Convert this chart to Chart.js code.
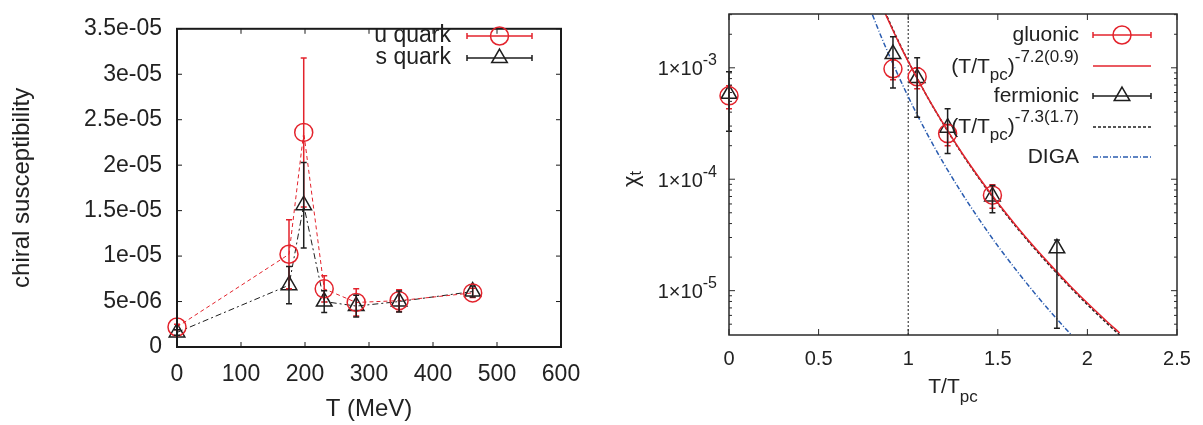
<!DOCTYPE html>
<html>
<head>
<meta charset="utf-8">
<script src="https://cdn.jsdelivr.net/npm/chart.js@4.4.1/dist/chart.umd.min.js"></script>
<style>
  html, body { margin: 0; padding: 0; background: #fff; }
  #wrap { position: relative; width: 1203px; height: 425px; }
  #quark-chart { position: absolute; left: 0; top: 0; }
  #topo-chart { position: absolute; left: 600px; top: 0; }
</style>
</head>
<body>
<div id="wrap">
  <canvas id="quark-chart" width="600" height="425"></canvas>
  <canvas id="topo-chart" width="603" height="425"></canvas>
</div>
<script>
// ---- left panel: chiral susceptibility ----
var quarkTemps = [0, 175, 198, 230, 280, 347, 462];
var uQuark    = [2.2e-6, 1.02e-5, 2.36e-5, 6.4e-6, 4.9e-6, 5.1e-6, 5.95e-6];
var uQuarkErr = [0.3e-6, 3.8e-6, 8.2e-6, 1.45e-6, 1.5e-6, 1.2e-6, 0.5e-6];
var sQuark    = [1.6e-6, 6.8e-6, 1.56e-5, 5.0e-6, 4.5e-6, 5.0e-6, 6.1e-6];
var sQuarkErr = [0.3e-6, 2.05e-6, 4.7e-6, 1.2e-6, 1.2e-6, 1.15e-6, 0.6e-6];

var quarkXTicks  = [0, 100, 200, 300, 400, 500, 600];
var quarkYTicks  = [0, 5e-6, 1e-5, 1.5e-5, 2e-5, 2.5e-5, 3e-5, 3.5e-5];
var quarkYLabels = ["0", "5e-06", "1e-05", "1.5e-05", "2e-05", "2.5e-05", "3e-05", "3.5e-05"];

// ---- right panel: topological susceptibility ----
var gluonicX  = [0, 0.915, 1.05, 1.22, 1.47];
var gluonic   = [5.6e-4, 9.8e-4, 8.3e-4, 2.57e-4, 7.2e-5];
var gluonicLo = [4.3e-4, 7.8e-4, 6.5e-4, 2.0e-4, 5.5e-5];
var gluonicHi = [6.9e-4, 1.18e-3, 1.0e-3, 3.1e-4, 8.9e-5];

var fermionicX  = [0, 0.915, 1.05, 1.22, 1.47, 1.83];
var fermionic   = [5.85e-4, 1.33e-3, 8.1e-4, 2.9e-4, 7.0e-5, 2.4e-5];
var fermionicLo = [2.7e-4, 6.6e-4, 3.6e-4, 1.7e-4, 5.0e-5, 4.6e-6];
var fermionicHi = [9.2e-4, 1.9e-3, 1.23e-3, 4.3e-4, 8.8e-5, 2.85e-5];

var fitGluX = [0.87, 0.95, 1.0, 1.1, 1.2, 1.3, 1.4, 1.5, 1.6, 1.7, 1.8, 1.9, 2.0, 2.1, 2.18];
var fitGlu  = [3.11e-3, 1.65e-3, 1.14e-3, 5.74e-4, 3.07e-4, 1.72e-4, 1.01e-4, 6.15e-5, 3.87e-5, 2.50e-5, 1.66e-5, 1.12e-5, 7.75e-6, 5.46e-6, 4.17e-6];
var fitFerX = [0.87, 0.95, 1.0, 1.1, 1.2, 1.3, 1.4, 1.5, 1.6, 1.7, 1.8, 1.9, 2.0, 2.1, 2.18];
var fitFer  = [3.18e-3, 1.67e-3, 1.15e-3, 5.73e-4, 3.05e-4, 1.70e-4, 9.92e-5, 6.02e-5, 3.78e-5, 2.44e-5, 1.61e-5, 1.09e-5, 7.5e-6, 5.25e-6, 4.0e-6];
var digaX = [0.78, 0.85, 0.9, 1.0, 1.1, 1.2, 1.3, 1.4, 1.5, 1.6, 1.7, 1.8, 1.9, 2.0];
var diga  = [3.63e-3, 1.89e-3, 1.23e-3, 5.5e-4, 2.66e-4, 1.37e-4, 7.48e-5, 4.27e-5, 2.52e-5, 1.55e-5, 9.75e-6, 6.31e-6, 4.18e-6, 2.83e-6];
var tpcLineX = [1, 1];
var tpcLineY = [4e-6, 3.04e-3];

var topoXTicks  = [0, 0.5, 1, 1.5, 2, 2.5];
var topoXLabels = ["0", "0.5", "1", "1.5", "2", "2.5"];
var topoYTicks  = [1e-5, 1e-4, 1e-3];
var topoYExp    = ["-5", "-4", "-3"];
var topoYMinor  = [5e-6, 6e-6, 7e-6, 8e-6, 9e-6, 2e-5, 3e-5, 4e-5, 5e-5, 6e-5, 7e-5, 8e-5, 9e-5,
                   2e-4, 3e-4, 4e-4, 5e-4, 6e-4, 7e-4, 8e-4, 9e-4, 2e-3, 3e-3];

var RED = "#e3232c", BLACK = "#1e1e1e", BLUE = "#2a5cb0", TEXT = "#222";
var FONT = "'Liberation Sans', Arial, Helvetica, sans-serif";
Chart.defaults.font.family = FONT;
Chart.defaults.color = TEXT;

function pairs(xs, ys) {
  return xs.map(function (x, i) { return { x: x, y: ys[i] }; });
}

// text made of pieces with different sizes / offsets (sub- and superscripts)
function richText(ctx, parts, x, y, align) {
  var total = 0;
  parts.forEach(function (p) {
    ctx.font = p.size + "px " + FONT;
    p.w = ctx.measureText(p.t).width;
    total += p.w;
  });
  var cx = align === "right" ? x - total : (align === "center" ? x - total / 2 : x);
  ctx.textAlign = "left";
  ctx.textBaseline = "middle";
  parts.forEach(function (p) {
    ctx.font = p.size + "px " + FONT;
    ctx.fillText(p.t, cx, y + (p.dy || 0));
    cx += p.w;
  });
}

function drawMarker(ctx, style, x, y, r) {
  ctx.beginPath();
  if (style === "circle") {
    ctx.arc(x, y, r, 0, Math.PI * 2);
  } else {
    var a = 0;
    ctx.moveTo(x + Math.sin(a) * r, y - Math.cos(a) * r);
    a += Math.PI * 2 / 3;
    ctx.lineTo(x + Math.sin(a) * r, y - Math.cos(a) * r);
    a += Math.PI * 2 / 3;
    ctx.lineTo(x + Math.sin(a) * r, y - Math.cos(a) * r);
    ctx.closePath();
  }
  ctx.stroke();
}

var errorBars = {
  id: "errorBars",
  afterDatasetsDraw: function (chart) {
    var ctx = chart.ctx, ys = chart.scales.y;
    chart.data.datasets.forEach(function (ds, i) {
      if (!ds.errLo) return;
      var meta = chart.getDatasetMeta(i);
      ctx.save();
      ctx.strokeStyle = ds.borderColor;
      ctx.lineWidth = 1.5;
      ctx.setLineDash([]);
      ctx.beginPath();
      meta.data.forEach(function (pt, j) {
        var y0 = ys.getPixelForValue(ds.errLo[j]);
        var y1 = ys.getPixelForValue(ds.errHi[j]);
        ctx.moveTo(pt.x, y0); ctx.lineTo(pt.x, y1);
        ctx.moveTo(pt.x - 3, y0); ctx.lineTo(pt.x + 3, y0);
        ctx.moveTo(pt.x - 3, y1); ctx.lineTo(pt.x + 3, y1);
      });
      ctx.stroke();
      ctx.restore();
    });
  }
};

// gnuplot style border with inward ticks on all four sides
function makeFrame(cfg) {
  return {
    id: "frame",
    afterDraw: function (chart) {
      var a = chart.chartArea, ctx = chart.ctx;
      var xs = chart.scales.x, ys = chart.scales.y;
      ctx.save();
      ctx.strokeStyle = cfg.color;
      ctx.lineWidth = cfg.width;
      ctx.strokeRect(a.left, a.top, a.right - a.left, a.bottom - a.top);
      ctx.lineWidth = 1;
      ctx.beginPath();
      cfg.xTicks.forEach(function (v) {
        var p = xs.getPixelForValue(v);
        ctx.moveTo(p, a.bottom); ctx.lineTo(p, a.bottom - cfg.len);
        ctx.moveTo(p, a.top); ctx.lineTo(p, a.top + cfg.len);
      });
      cfg.yTicks.forEach(function (v) {
        var p = ys.getPixelForValue(v);
        ctx.moveTo(a.left, p); ctx.lineTo(a.left + cfg.len, p);
        ctx.moveTo(a.right, p); ctx.lineTo(a.right - cfg.len, p);
      });
      (cfg.yMinor || []).forEach(function (v) {
        var p = ys.getPixelForValue(v);
        ctx.moveTo(a.left, p); ctx.lineTo(a.left + cfg.len / 2, p);
        ctx.moveTo(a.right, p); ctx.lineTo(a.right - cfg.len / 2, p);
      });
      ctx.stroke();
      ctx.restore();
    }
  };
}

function makeLegend(cfg) {
  return {
    id: "gnuLegend",
    afterDraw: function (chart) {
      var ctx = chart.ctx;
      ctx.save();
      cfg.items.forEach(function (it) {
        ctx.fillStyle = TEXT;
        richText(ctx, it.parts, cfg.textRight, it.y + (it.textDy || 0), "right");
        ctx.strokeStyle = it.color;
        ctx.lineWidth = it.lineWidth || 1.5;
        ctx.setLineDash(it.dash || []);
        ctx.beginPath();
        ctx.moveTo(cfg.x0, it.y); ctx.lineTo(cfg.x1, it.y);
        ctx.stroke();
        ctx.setLineDash([]);
        if (it.marker) {
          ctx.beginPath();
          ctx.moveTo(cfg.x0, it.y - 3); ctx.lineTo(cfg.x0, it.y + 3);
          ctx.moveTo(cfg.x1, it.y - 3); ctx.lineTo(cfg.x1, it.y + 3);
          ctx.stroke();
          drawMarker(ctx, it.marker, (cfg.x0 + cfg.x1) / 2, it.y, 9);
        }
      });
      ctx.restore();
    }
  };
}

// ---------------- left chart ----------------
var quarkCtx = document.getElementById("quark-chart").getContext("2d");
new Chart(quarkCtx, {
  type: "line",
  data: {
    datasets: [
      {
        label: "u quark",
        data: pairs(quarkTemps, uQuark),
        errLo: uQuark.map(function (v, i) { return v - uQuarkErr[i]; }),
        errHi: uQuark.map(function (v, i) { return v + uQuarkErr[i]; }),
        borderColor: RED,
        borderWidth: 1,
        borderDash: [4, 3],
        pointStyle: "circle",
        pointRadius: 9,
        pointBorderWidth: 1.5,
        pointBorderColor: RED,
        pointBackgroundColor: "rgba(0,0,0,0)",
        tension: 0,
        clip: false,
      },
      {
        label: "s quark",
        data: pairs(quarkTemps, sQuark),
        errLo: sQuark.map(function (v, i) { return v - sQuarkErr[i]; }),
        errHi: sQuark.map(function (v, i) { return v + sQuarkErr[i]; }),
        borderColor: BLACK,
        borderWidth: 1,
        borderDash: [6, 3, 2, 3],
        pointStyle: "triangle",
        pointRadius: 9,
        pointBorderWidth: 1.5,
        pointBorderColor: BLACK,
        pointBackgroundColor: "rgba(0,0,0,0)",
        tension: 0,
        clip: false,
      },
    ],
  },
  options: {
    responsive: false,
    animation: false,
    layout: { padding: { top: 17, right: 39, left: 0, bottom: 0 } },
    plugins: { legend: { display: false }, tooltip: { enabled: false } },
    scales: {
      x: {
        type: "linear",
        min: 0,
        max: 600,
        afterBuildTicks: function (s) { s.ticks = quarkXTicks.map(function (v) { return { value: v }; }); },
        afterFit: function (s) { s.height = 78; },
        grid: { display: false, drawTicks: false },
        border: { display: false },
        ticks: { padding: 14, autoSkip: false, maxRotation: 0, color: TEXT, font: { size: 23 } },
        title: { display: true, text: "T (MeV)", color: TEXT, font: { size: 24 }, padding: { top: 0, bottom: 1 } },
      },
      y: {
        type: "linear",
        min: 0,
        max: 3.5e-5,
        afterBuildTicks: function (s) { s.ticks = quarkYTicks.map(function (v) { return { value: v }; }); },
        afterFit: function (s) { s.width = 177; },
        grid: { display: false, drawTicks: false },
        border: { display: false },
        ticks: {
          padding: 15,
          color: TEXT,
          font: { size: 23 },
          callback: function (v, i) { return quarkYLabels[i]; },
        },
        title: { display: true, text: "chiral susceptibility", color: TEXT, font: { size: 24 }, padding: { top: 8, bottom: 0 } },
      },
    },
  },
  plugins: [
    errorBars,
    makeFrame({ color: "#1a1a1a", width: 2, len: 5, xTicks: quarkXTicks, yTicks: quarkYTicks }),
    makeLegend({
      textRight: 451, x0: 467, x1: 532,
      items: [
        { parts: [{ t: "u quark", size: 23 }], y: 36, color: RED, marker: "circle" },
        { parts: [{ t: "s quark", size: 23 }], y: 58, color: BLACK, marker: "triangle" },
      ],
    }),
  ],
});

// ---------------- right chart ----------------
var topoLabels = {
  id: "topoLabels",
  afterDraw: function (chart) {
    var ctx = chart.ctx, ys = chart.scales.y;
    ctx.save();
    ctx.fillStyle = TEXT;
    topoYTicks.forEach(function (v, i) {
      var p = ys.getPixelForValue(v);
      richText(ctx, [{ t: "1\u00d710", size: 20 }, { t: topoYExp[i], size: 16, dy: -9 }], 117, p + 2, "right");
    });
    richText(ctx, [{ t: "T/T", size: 21 }, { t: "pc", size: 17, dy: 10 }], 353, 387, "center");
    ctx.translate(32, 179);
    ctx.rotate(-Math.PI / 2);
    richText(ctx, [{ t: "\u03c7", size: 22 }, { t: "t", size: 16, dy: 5 }], 0, 0, "center");
    ctx.restore();
  }
};

var topoCtx = document.getElementById("topo-chart").getContext("2d");
new Chart(topoCtx, {
  type: "line",
  data: {
    datasets: [
      {
        label: "gluonic",
        data: pairs(gluonicX, gluonic),
        errLo: gluonicLo,
        errHi: gluonicHi,
        showLine: false,
        borderColor: RED,
        pointStyle: "circle",
        pointRadius: 9,
        pointBorderWidth: 1.5,
        pointBorderColor: RED,
        pointBackgroundColor: "rgba(0,0,0,0)",
        clip: false,
      },
      {
        label: "fit gluonic",
        data: pairs(fitGluX, fitGlu),
        borderColor: RED,
        borderWidth: 1.5,
        pointRadius: 0,
        cubicInterpolationMode: "monotone",
      },
      {
        label: "fermionic",
        data: pairs(fermionicX, fermionic),
        errLo: fermionicLo,
        errHi: fermionicHi,
        showLine: false,
        borderColor: BLACK,
        pointStyle: "triangle",
        pointRadius: 9,
        pointBorderWidth: 1.5,
        pointBorderColor: BLACK,
        pointBackgroundColor: "rgba(0,0,0,0)",
        clip: false,
      },
      {
        label: "fit fermionic",
        data: pairs(fitFerX, fitFer),
        borderColor: BLACK,
        borderWidth: 1.5,
        borderDash: [3, 2],
        pointRadius: 0,
        cubicInterpolationMode: "monotone",
      },
      {
        label: "DIGA",
        data: pairs(digaX, diga),
        borderColor: BLUE,
        borderWidth: 1.5,
        borderDash: [5, 2, 1, 2],
        pointRadius: 0,
        cubicInterpolationMode: "monotone",
      },
      {
        label: "Tpc",
        data: pairs(tpcLineX, tpcLineY),
        borderColor: BLACK,
        borderWidth: 1,
        borderDash: [2, 2],
        pointRadius: 0,
      },
    ],
  },
  options: {
    responsive: false,
    animation: false,
    layout: { padding: { top: 14, right: 26, left: 0, bottom: 0 } },
    plugins: { legend: { display: false }, tooltip: { enabled: false } },
    scales: {
      x: {
        type: "linear",
        min: 0,
        max: 2.5,
        afterBuildTicks: function (s) { s.ticks = topoXTicks.map(function (v) { return { value: v }; }); },
        afterFit: function (s) { s.height = 90; },
        grid: { display: false, drawTicks: false },
        border: { display: false },
        ticks: {
          padding: 12,
          autoSkip: false,
          maxRotation: 0,
          color: TEXT,
          font: { size: 20 },
          callback: function (v, i) { return topoXLabels[i]; },
        },
      },
      y: {
        type: "logarithmic",
        min: 4e-6,
        max: 3.04e-3,
        afterFit: function (s) { s.width = 129; },
        grid: { display: false, drawTicks: false },
        border: { display: false },
        ticks: { display: false },
      },
    },
  },
  plugins: [
    errorBars,
    makeFrame({ color: "#2a2a2a", width: 1.5, len: 6, xTicks: topoXTicks, yTicks: topoYTicks, yMinor: topoYMinor }),
    topoLabels,
    makeLegend({
      textRight: 479, x0: 493, x1: 551,
      items: [
        { parts: [{ t: "gluonic", size: 21 }], y: 35, color: RED, marker: "circle" },
        { parts: [{ t: "(T/T", size: 21 }, { t: "pc", size: 17, dy: 8 }, { t: ")", size: 21 }, { t: "-7.2(0.9)", size: 17, dy: -10 }],
          y: 66, textDy: 1, color: RED },
        { parts: [{ t: "fermionic", size: 21 }], y: 96, color: BLACK, marker: "triangle" },
        { parts: [{ t: "(T/T", size: 21 }, { t: "pc", size: 17, dy: 8 }, { t: ")", size: 21 }, { t: "-7.3(1.7)", size: 17, dy: -10 }],
          y: 127, color: BLACK, dash: [3, 2] },
        { parts: [{ t: "DIGA", size: 21 }], y: 157, color: BLUE, dash: [5, 2, 1, 2] },
      ],
    }),
  ],
});
</script>
</body>
</html>
